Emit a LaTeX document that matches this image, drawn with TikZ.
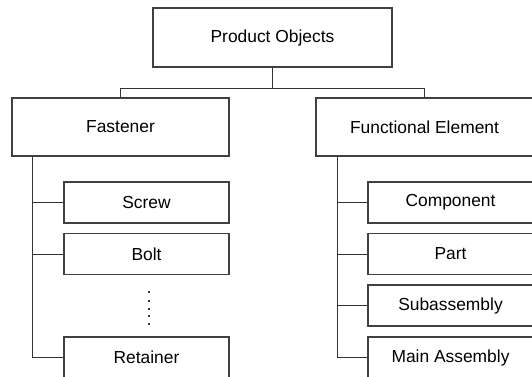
\documentclass[tikz,border=0pt]{standalone}
\usepackage{fontspec}
\setmainfont{Liberation Sans}
\begin{document}
\begin{tikzpicture}[x=1pt,y=1pt,
  boxstyle/.style={draw=black!75,line width=1.1pt,fill=white,inner sep=0pt,
    font=\fontsize{17.4}{20}\selectfont,text=black},
  big/.style={boxstyle,minimum width=217pt,minimum height=58pt},
  small/.style={boxstyle,minimum width=165pt,minimum height=41pt},
  conn/.style={draw=black!80,line width=1pt}]
\useasboundingbox (0,0) rectangle (532,-376);
\clip (0,0) rectangle (532,-376);
\node[boxstyle,minimum width=239pt,minimum height=59pt] (prod) at (272.5,-37.5) {Product Objects};
\node[big] (fast) at (120.5,-127) {Fastener};
\node[big] (func) at (424.5,-127) {Functional Element};
\node[small] (screw) at (146.5,-202.5) {Screw};
\node[small] (bolt) at (146.5,-254) {Bolt};
\node[small] (ret) at (146.5,-357.5) {Retainer};
\node[small] (comp) at (450.5,-202.5) {Component};
\node[small] (part) at (450.5,-254) {Part};
\node[small] (sub) at (450.5,-305.5) {Subassembly};
\node[small] (main) at (450.5,-357.5) {Main Assembly};
\coordinate (junc) at ([yshift=-21pt]prod.south);
\coordinate (ftrunk) at ([xshift=21pt]fast.south west);
\coordinate (gtrunk) at ([xshift=22pt]func.south west);
\draw[conn] (prod.south) -- (junc);
\draw[conn] (fast.north) |- (junc) -| (func.north);
\draw[conn] (ftrunk) |- (ret.west);
\draw[conn] (screw.west) -- (screw.west -| ftrunk);
\draw[conn] (bolt.west) -- (bolt.west -| ftrunk);
\draw[conn] (gtrunk) |- (main.west);
\draw[conn] (comp.west) -- (comp.west -| gtrunk);
\draw[conn] (part.west) -- (part.west -| gtrunk);
\draw[conn] (sub.west) -- (sub.west -| gtrunk);
\foreach \yy in {291,299.5,307.5,315,322.5}
  \fill[black!80] (147.7,-\yy) rectangle ++(2,-2);
\end{tikzpicture}
\end{document}
